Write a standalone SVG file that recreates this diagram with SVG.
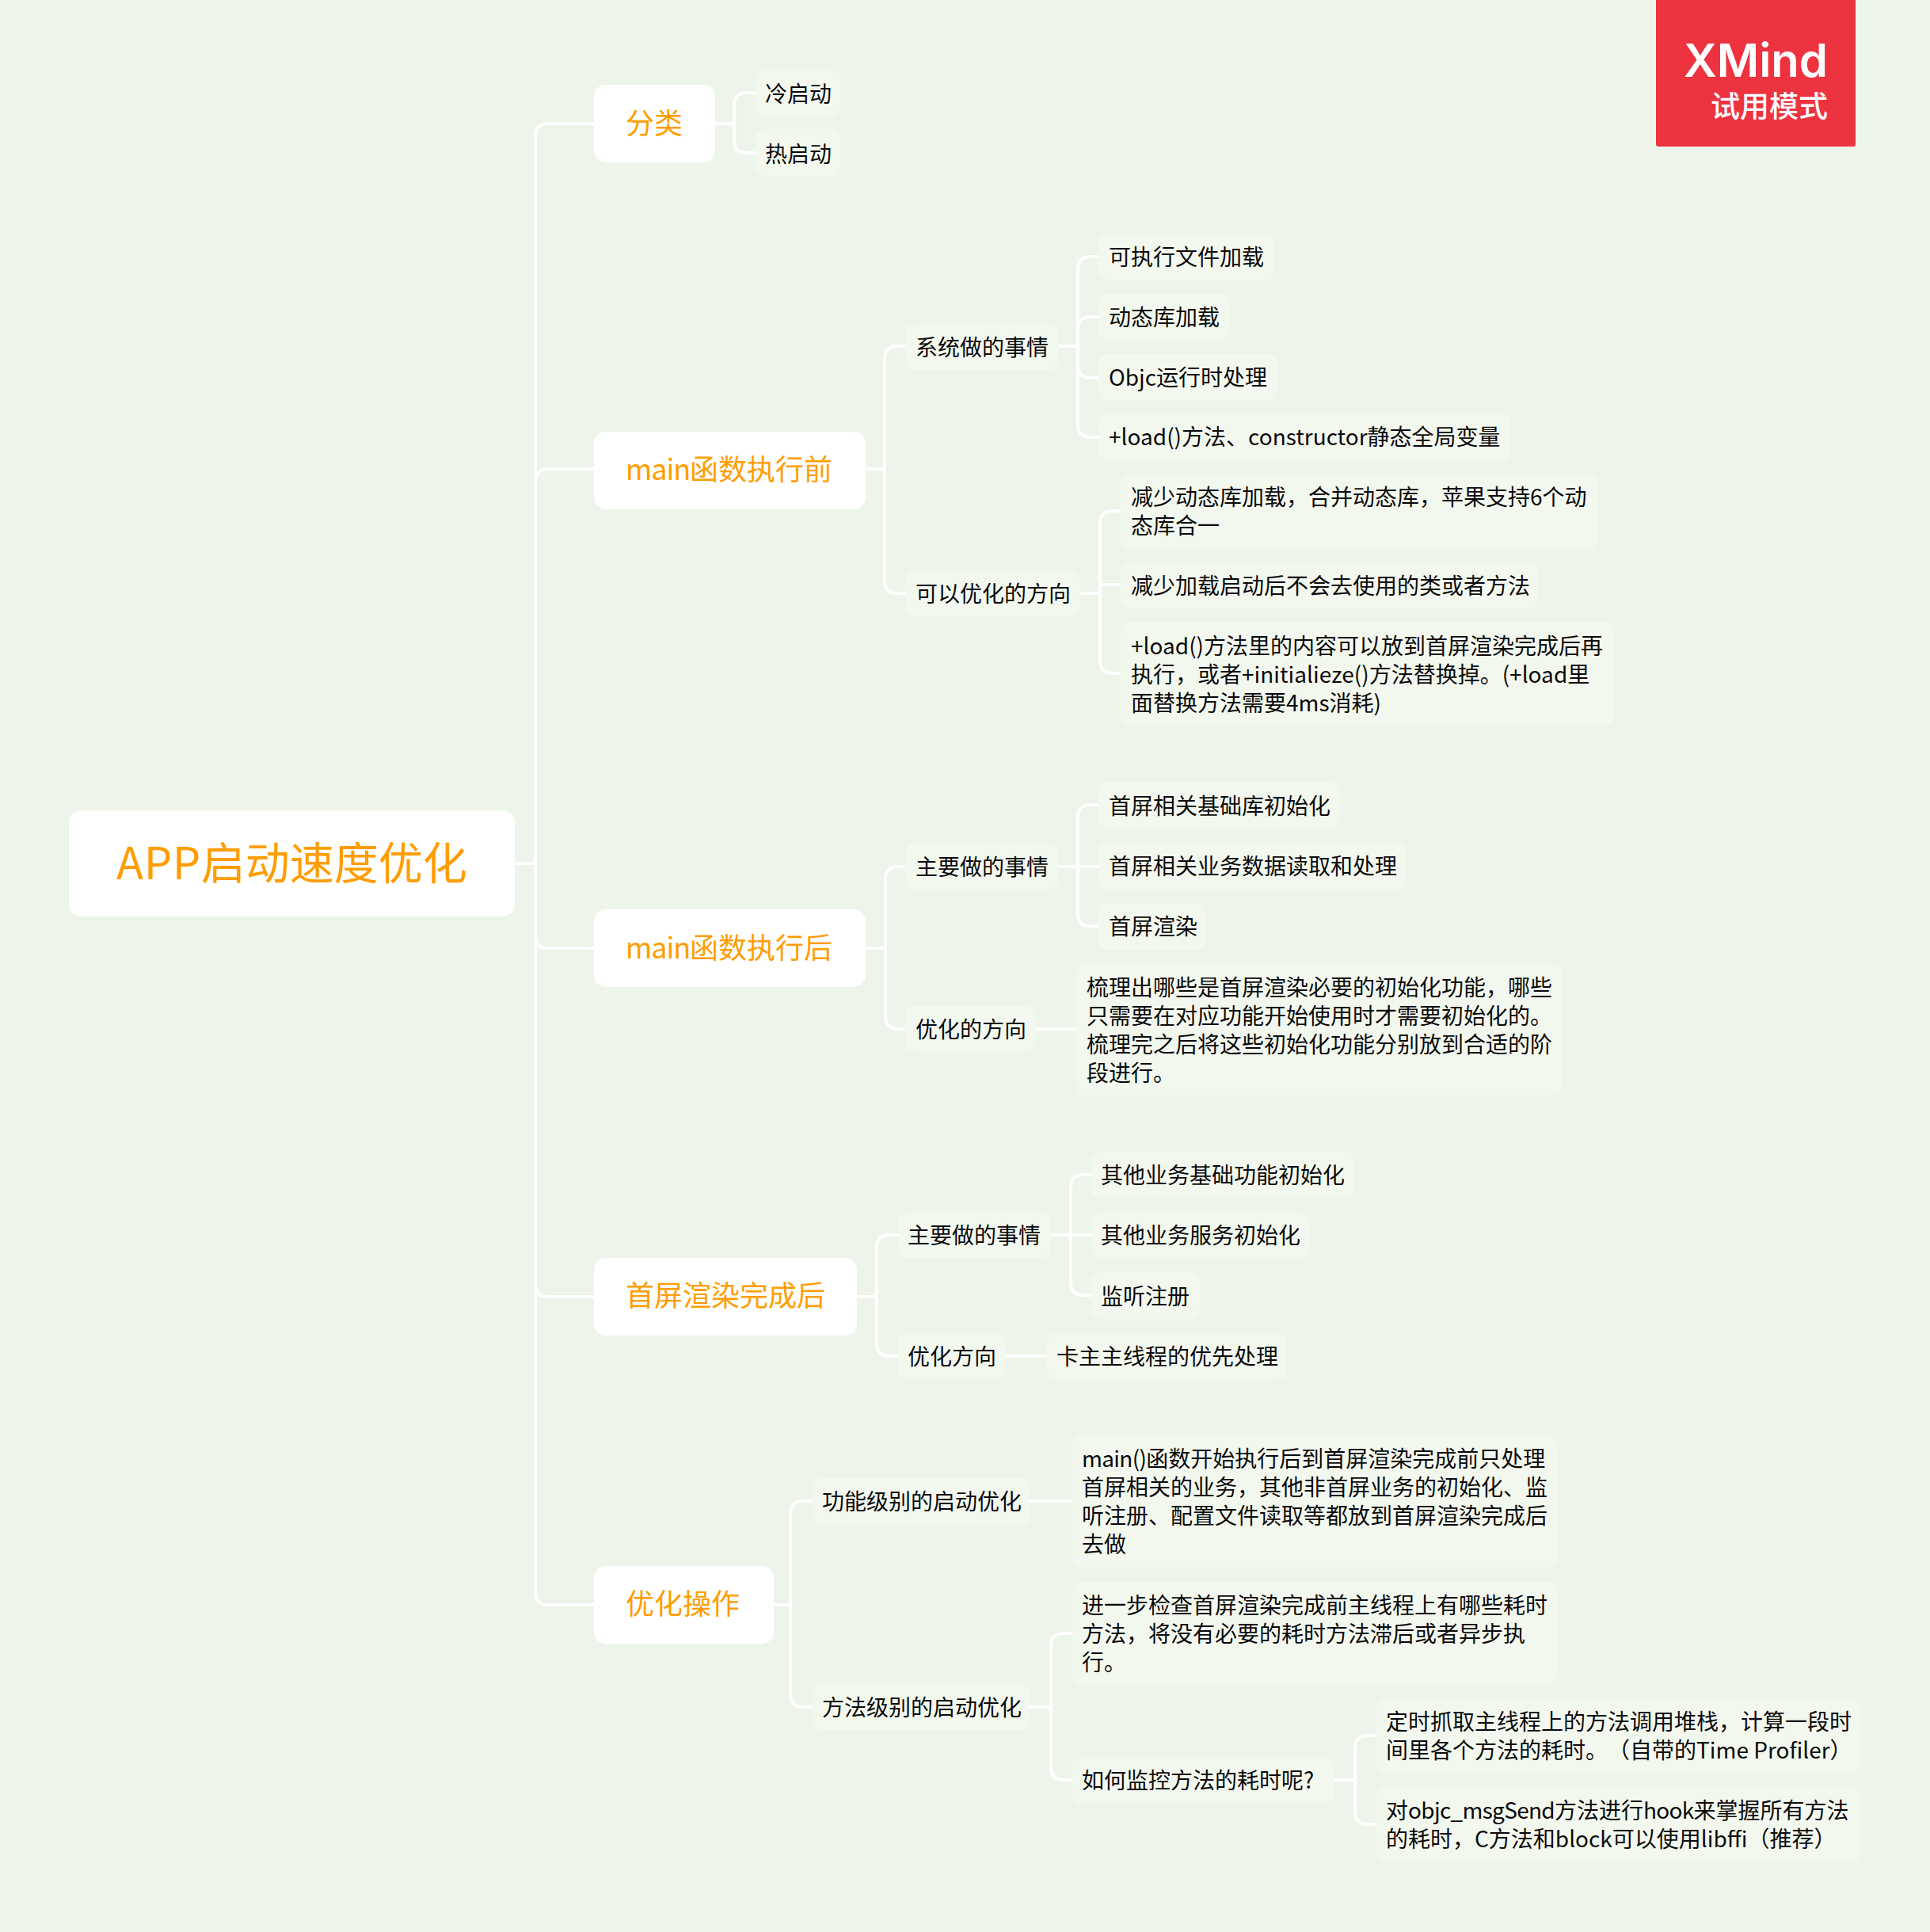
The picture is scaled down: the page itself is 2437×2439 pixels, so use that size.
<svg xmlns="http://www.w3.org/2000/svg" width="2437" height="2439" viewBox="0 0 2437 2439">
<style>
text{font-family:"Noto Sans CJK SC","Noto Sans",sans-serif;text-spacing-trim:space-all;}
.c path{fill:none;stroke:#fff;stroke-width:4;}
.r rect{fill:#fff;}
.m rect{fill:#fff;}
.m text{font-size:36px;fill:#ff9d00;}
.r text{font-size:56px;fill:#ff9d00;}
.s rect{fill:#f3f8ef;}
.s text{font-size:28px;fill:#0a0a0a;transform:translateY(.7px);}
.l{letter-spacing:-.7px;}
.ml{letter-spacing:-1.1px;}
</style>
<rect width="2437" height="2439" fill="#edf5ea"/>
<g class="c" id="connectors">
<path d="M650 1090H676"/>
<path d="M676 1090V172Q676 156 692 156H750"/>
<path d="M676 1090V608Q676 592 692 592H750"/>
<path d="M676 1090V1181Q676 1197 692 1197H750"/>
<path d="M676 1090V1621Q676 1637 692 1637H750"/>
<path d="M676 1090V2010Q676 2026 692 2026H750"/>
<path d="M903 156H927"/>
<path d="M927 156V133Q927 117 943 117H954"/>
<path d="M927 156V177Q927 193 943 193H954"/>
<path d="M1093 592H1117"/>
<path d="M1117 592V453Q1117 437 1133 437H1143"/>
<path d="M1117 592V733Q1117 749 1133 749H1143"/>
<path d="M1336 437H1361"/>
<path d="M1361 437V340Q1361 324 1377 324H1387"/>
<path d="M1361 437V416Q1361 400 1377 400H1387"/>
<path d="M1361 437V461Q1361 477 1377 477H1387"/>
<path d="M1361 437V536Q1361 552 1377 552H1387"/>
<path d="M1364 749H1389"/>
<path d="M1389 749V661Q1389 645 1405 645H1415"/>
<path d="M1389 749V738H1415"/>
<path d="M1389 749V834Q1389 850 1405 850H1415"/>
<path d="M1093 1197H1118"/>
<path d="M1118 1197V1110Q1118 1094 1134 1094H1143"/>
<path d="M1118 1197V1283Q1118 1299 1134 1299H1143"/>
<path d="M1336 1094H1361"/>
<path d="M1361 1094V1032Q1361 1016 1377 1016H1387"/>
<path d="M1361 1094H1387"/>
<path d="M1361 1094V1153Q1361 1169 1377 1169H1387"/>
<path d="M1308 1299H1359"/>
<path d="M1082 1637H1107"/>
<path d="M1107 1637V1575Q1107 1559 1123 1559H1134"/>
<path d="M1107 1637V1696Q1107 1712 1123 1712H1134"/>
<path d="M1327 1559H1352"/>
<path d="M1352 1559V1499Q1352 1483 1368 1483H1378"/>
<path d="M1352 1559H1378"/>
<path d="M1352 1559V1619Q1352 1635 1368 1635H1378"/>
<path d="M1269 1712H1322"/>
<path d="M977 2026H998"/>
<path d="M998 2026V1911Q998 1895 1014 1895H1026"/>
<path d="M998 2026V2139Q998 2155 1014 2155H1026"/>
<path d="M1300 1895H1353"/>
<path d="M1300 2155H1327"/>
<path d="M1327 2155V2078Q1327 2062 1343 2062H1354"/>
<path d="M1327 2155V2231Q1327 2247 1343 2247H1354"/>
<path d="M1684 2247H1711"/>
<path d="M1711 2247V2207Q1711 2191 1727 2191H1738"/>
<path d="M1711 2247V2287Q1711 2303 1727 2303H1738"/>
</g>
<g id="root" class="r"><rect x="87" y="1023" width="563" height="134" rx="15"/><text x="147" y="1110"><tspan letter-spacing=".6">APP</tspan>启动速度优化</text></g>
<g id="m1" class="m"><rect x="750" y="107" width="153" height="98" rx="15"/><text x="790" y="169">分类</text></g>
<g id="m2" class="m"><rect x="750" y="545" width="343" height="98" rx="15"/><text x="790" y="605.5"><tspan class="ml">main</tspan>函数执行前</text></g>
<g id="m3" class="m"><rect x="750" y="1148" width="343" height="98" rx="15"/><text x="790" y="1210"><tspan class="ml">main</tspan>函数执行后</text></g>
<g id="m4" class="m"><rect x="750" y="1588" width="332" height="98" rx="15"/><text x="790" y="1648.5">首屏渲染完成后</text></g>
<g id="m5" class="m"><rect x="750" y="1977" width="227" height="98" rx="15"/><text x="790" y="2037.5">优化操作</text></g>
<g id="n1" class="s"><rect x="954" y="88" width="107" height="59" rx="12"/><text x="966" y="128">冷启动</text></g>
<g id="n2" class="s"><rect x="954" y="163" width="107" height="60" rx="12"/><text x="966" y="204">热启动</text></g>
<g id="n3" class="s"><rect x="1143" y="409" width="193" height="58" rx="12"/><text x="1156" y="448">系统做的事情</text></g>
<g id="n4" class="s"><rect x="1387" y="295" width="221" height="59" rx="12"/><text x="1400" y="334">可执行文件加载</text></g>
<g id="n5" class="s"><rect x="1387" y="371" width="165" height="59" rx="12"/><text x="1400" y="410">动态库加载</text></g>
<g id="n6" class="s"><rect x="1387" y="447" width="226" height="59" rx="12"/><text x="1400" y="486">Objc运行时处理</text></g>
<g id="n7" class="s"><rect x="1387" y="522" width="521" height="59" rx="12"/><text x="1400" y="561">+load()方法、constructor静态全局变量</text></g>
<g id="n8" class="s"><rect x="1143" y="720" width="221" height="58" rx="12"/><text x="1156" y="759">可以优化的方向</text></g>
<g id="n9" class="s"><rect x="1415" y="598" width="602" height="95" rx="12"/><text x="1428" y="637">减少动态库加载，合并动态库，苹果支持6个动<tspan x="1428" dy="36">态库合一</tspan></text></g>
<g id="n10" class="s"><rect x="1415" y="709" width="527" height="59" rx="12"/><text x="1428" y="749">减少加载启动后不会去使用的类或者方法</text></g>
<g id="n11" class="s"><rect x="1415" y="785" width="622" height="131" rx="12"/><text x="1428" y="825">+load()方法里的内容可以放到首屏渲染完成后再<tspan x="1428" dy="36">执行，或者+initialieze()方法替换掉。(+load里</tspan><tspan x="1428" dy="36">面替换方法需要4ms消耗)</tspan></text></g>
<g id="n12" class="s"><rect x="1143" y="1065" width="193" height="58" rx="12"/><text x="1156" y="1104">主要做的事情</text></g>
<g id="n13" class="s"><rect x="1387" y="987" width="305" height="59" rx="12"/><text x="1400" y="1027">首屏相关基础库初始化</text></g>
<g id="n14" class="s"><rect x="1387" y="1064" width="389" height="59" rx="12"/><text x="1400" y="1103">首屏相关业务数据读取和处理</text></g>
<g id="n15" class="s"><rect x="1387" y="1140" width="135" height="59" rx="12"/><text x="1400" y="1179">首屏渲染</text></g>
<g id="n16" class="s"><rect x="1143" y="1270" width="165" height="58" rx="12"/><text x="1156" y="1309">优化的方向</text></g>
<g id="n17" class="s"><rect x="1359" y="1216" width="613" height="167" rx="12"/><text x="1372" y="1256">梳理出哪些是首屏渲染必要的初始化功能，哪些<tspan x="1372" dy="36">只需要在对应功能开始使用时才需要初始化的。</tspan><tspan x="1372" dy="36">梳理完之后将这些初始化功能分别放到合适的阶</tspan><tspan x="1372" dy="36">段进行。</tspan></text></g>
<g id="n18" class="s"><rect x="1134" y="1530" width="193" height="58" rx="12"/><text x="1146" y="1569">主要做的事情</text></g>
<g id="n19" class="s"><rect x="1378" y="1454" width="331" height="59" rx="12"/><text x="1390" y="1493">其他业务基础功能初始化</text></g>
<g id="n20" class="s"><rect x="1378" y="1530" width="275" height="59" rx="12"/><text x="1390" y="1569">其他业务服务初始化</text></g>
<g id="n21" class="s"><rect x="1378" y="1606" width="137" height="59" rx="12"/><text x="1390" y="1646">监听注册</text></g>
<g id="n22" class="s"><rect x="1134" y="1683" width="135" height="58" rx="12"/><text x="1146" y="1722">优化方向</text></g>
<g id="n23" class="s"><rect x="1322" y="1683" width="303" height="59" rx="12"/><text x="1334" y="1722">卡主主线程的优先处理</text></g>
<g id="n24" class="s"><rect x="1026" y="1866" width="274" height="59" rx="12"/><text x="1038" y="1905.5">功能级别的启动优化</text></g>
<g id="n25" class="s"><rect x="1354" y="1812" width="612" height="167" rx="12"/><text x="1366" y="1851"><tspan class="l">main()</tspan>函数开始执行后到首屏渲染完成前只处理<tspan x="1366" dy="36">首屏相关的业务，其他非首屏业务的初始化、监</tspan><tspan x="1366" dy="36">听注册、配置文件读取等都放到首屏渲染完成后</tspan><tspan x="1366" dy="36">去做</tspan></text></g>
<g id="n26" class="s"><rect x="1026" y="2125" width="274" height="59" rx="12"/><text x="1038" y="2165">方法级别的启动优化</text></g>
<g id="n27" class="s"><rect x="1354" y="1997" width="612" height="130" rx="12"/><text x="1366" y="2036">进一步检查首屏渲染完成前主线程上有哪些耗时<tspan x="1366" dy="36">方法，将没有必要的耗时方法滞后或者异步执</tspan><tspan x="1366" dy="36">行。</tspan></text></g>
<g id="n28" class="s"><rect x="1354" y="2218" width="330" height="59" rx="12"/><text x="1366" y="2257">如何监控方法的耗时呢?</text></g>
<g id="n29" class="s"><rect x="1738" y="2144" width="611" height="95" rx="12"/><text x="1750" y="2183">定时抓取主线程上的方法调用堆栈，计算一段时<tspan x="1750" dy="36">间里各个方法的耗时。（自带的Time Profiler）</tspan></text></g>
<g id="n30" class="s"><rect x="1738" y="2256" width="611" height="95" rx="12"/><text x="1750" y="2295">对<tspan class="l">objc_msgSend</tspan>方法进行<tspan class="l">hook</tspan>来掌握所有方法<tspan x="1750" dy="36">的耗时，C方法和block可以使用libffi（推荐）</tspan></text></g>
<g id="badge"><rect x="2091" y="-4" width="252" height="189" rx="3" fill="#ee3340"/><text x="2308" y="97" text-anchor="end" font-size="58" font-weight="600" fill="#fff" style="font-family:Inter,Lato,sans-serif">XMind</text><text x="2308" y="148" text-anchor="end" font-size="37" font-weight="500" fill="#fff">试用模式</text></g>
</svg>
